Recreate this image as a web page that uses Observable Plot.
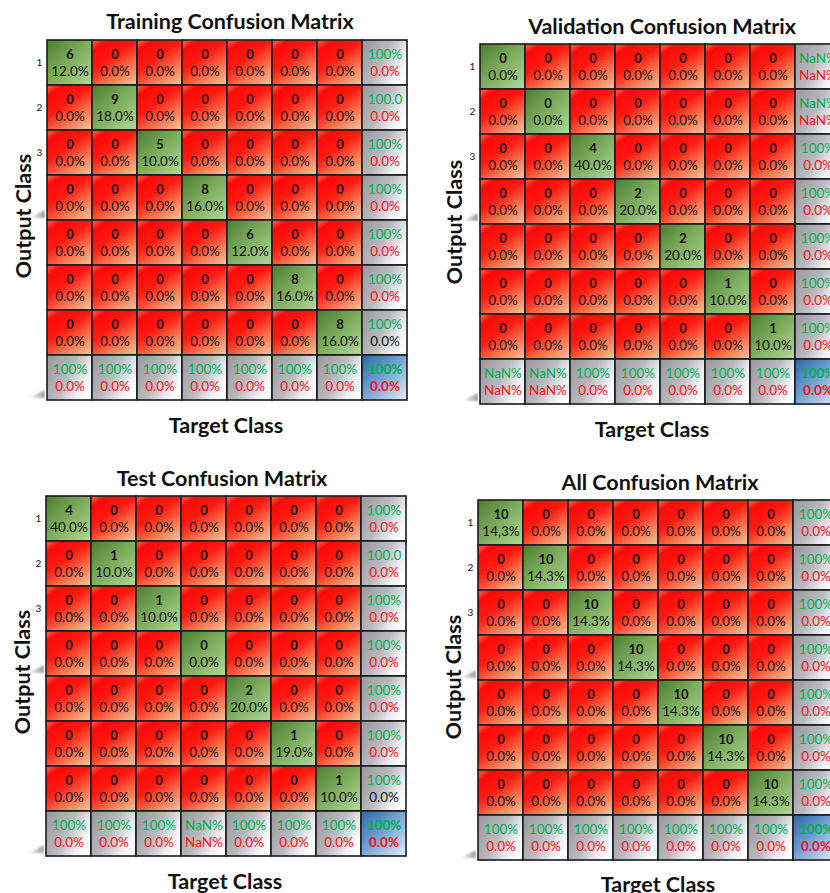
<!DOCTYPE html>
<html>
<head>
<meta charset="utf-8">
<script src="https://cdn.jsdelivr.net/npm/d3@7"></script>
<script src="https://cdn.jsdelivr.net/npm/@observablehq/plot@0.6"></script>
<style>
  html, body { margin: 0; padding: 0; background: #fff; }
  #page { position: relative; width: 830px; height: 893px; overflow: hidden;
          font-family: Lato, "Open Sans", sans-serif; color: #111; }
  .lbl { position: absolute; font-weight: bold; font-size: 21.5px; white-space: nowrap;
         transform: translate(-50%, -50%); line-height: 1; }
  .ylab { transform: translate(-50%, -50%) rotate(-90deg); }
  .panel { position: absolute; }
  .shade { position: absolute; }
</style>
</head>
<body>
<!-- shaded fills used by the matrix cells -->
<svg width="0" height="0" style="position:absolute">
  <defs>
    <linearGradient id="gRed" x1="0.15" y1="0" x2="0.85" y2="1">
      <stop offset="0" stop-color="#ff4a38"/>
      <stop offset="0.1" stop-color="#ff0808"/>
      <stop offset="0.4" stop-color="#ff1a10"/>
      <stop offset="0.72" stop-color="#f7744e"/>
      <stop offset="1" stop-color="#f2b890"/>
    </linearGradient>
    <linearGradient id="gGreen" x1="0" y1="0" x2="1" y2="1">
      <stop offset="0" stop-color="#4c7c2f"/>
      <stop offset="0.5" stop-color="#7eae5e"/>
      <stop offset="1" stop-color="#b4d99b"/>
    </linearGradient>
    <linearGradient id="gGray" x1="0" y1="0.25" x2="1" y2="0.75">
      <stop offset="0" stop-color="#9d9da3"/>
      <stop offset="0.45" stop-color="#b9bac0"/>
      <stop offset="0.78" stop-color="#eceef3"/>
      <stop offset="1" stop-color="#ffffff"/>
    </linearGradient>
    <linearGradient id="gBlue" x1="0" y1="0" x2="1" y2="1">
      <stop offset="0" stop-color="#2c66a6"/>
      <stop offset="0.45" stop-color="#6f9fd2"/>
      <stop offset="1" stop-color="#e6eef8"/>
    </linearGradient>
    <linearGradient id="gShade" x1="0" y1="0" x2="1" y2="0">
      <stop offset="0" stop-color="#9a9a9a" stop-opacity="0"/>
      <stop offset="1" stop-color="#8a8a8a" stop-opacity="0.9"/>
    </linearGradient>
    <filter id="soft"><feGaussianBlur stdDeviation="0.8"/></filter>
  </defs>
</svg>
<div id="page"></div>
<script>
// ---- class labels ----
const classes = ["1", "2", "3", "4", "5", "6", "7"];
const rowTicks = ["1", "2", "3"];
const offDiagCount = 0;
const offDiagPct = "0.0%";

// ---- Training ----
const trainDiag = [6, 9, 5, 8, 6, 8, 8];
const trainDiagPct = ["12.0%", "18.0%", "10.0%", "16.0%", "12.0%", "16.0%", "16.0%"];
const trainRowOk = ["100%", "100.0", "100%", "100%", "100%", "100%", "100%"];
const trainRowErr = ["0.0%", "0.0%", "0.0%", "0.0%", "0.0%", "0.0%", "0.0%"];
const trainColOk = ["100%", "100%", "100%", "100%", "100%", "100%", "100%"];
const trainColErr = ["0.0%", "0.0%", "0.0%", "0.0%", "0.0%", "0.0%", "0.0%"];
const trainTotal = ["100%", "0.0%"];

// ---- Validation ----
const valDiag = [0, 0, 4, 2, 2, 1, 1];
const valDiagPct = ["0.0%", "0.0%", "40.0%", "20.0%", "20.0%", "10.0%", "10.0%"];
const valRowOk = ["NaN%", "NaN%", "100%", "100%", "100%", "100%", "100%"];
const valRowErr = ["NaN%", "NaN%", "0.0%", "0.0%", "0.0%", "0.0%", "0.0%"];
const valColOk = ["NaN%", "NaN%", "100%", "100%", "100%", "100%", "100%"];
const valColErr = ["NaN%", "NaN%", "0.0%", "0.0%", "0.0%", "0.0%", "0.0%"];
const valTotal = ["100%", "0.0%"];

// ---- Test ----
const testDiag = [4, 1, 1, 0, 2, 1, 1];
const testDiagPct = ["40.0%", "10.0%", "10.0%", "0.0%", "20.0%", "19.0%", "10.0%"];
const testRowOk = ["100%", "100.0", "100%", "100%", "100%", "100%", "100%"];
const testRowErr = ["0.0%", "0.0%", "0.0%", "0.0%", "0.0%", "0.0%", "0.0%"];
const testColOk = ["100%", "100%", "100%", "NaN%", "100%", "100%", "100%"];
const testColErr = ["0.0%", "0.0%", "0.0%", "NaN%", "0.0%", "0.0%", "0.0%"];
const testTotal = ["100%", "0.0%"];

// ---- All ----
const allDiag = [10, 10, 10, 10, 10, 10, 10];
const allDiagPct = ["14,3%", "14.3%", "14.3%", "14.3%", "14.3%", "14.3%", "14.3%"];
const allRowOk = ["100%", "100%", "100%", "100%", "100%", "100%", "100%"];
const allRowErr = ["0.0%", "0.0%", "0.0%", "0.0%", "0.0%", "0.0%", "0.0%"];
const allColOk = ["100%", "100%", "100%", "100%", "100%", "100%", "100%"];
const allColErr = ["0.0%", "0.0%", "0.0%", "0.0%", "0.0%", "0.0%", "0.0%"];
const allTotal = ["100%", "0.0%"];

const GREEN = "#00b050", RED = "#ff1010", INK = "#111";
const keys = [...classes, "sum"];

const panels = [
  { title: "Training Confusion Matrix", diag: trainDiag, pct: trainDiagPct,
    rowOk: trainRowOk, rowErr: trainRowErr, colOk: trainColOk, colErr: trainColErr, total: trainTotal,
    darkErrRows: [6], left: 45, top: 39, w: 363, h: 361,
    titleX: 230, titleY: 22, xlabX: 226, xlabY: 426, ylabX: 24, ylabY: 216 },
  { title: "Validation Confusion Matrix", diag: valDiag, pct: valDiagPct,
    rowOk: valRowOk, rowErr: valRowErr, colOk: valColOk, colErr: valColErr, total: valTotal,
    darkErrRows: [], left: 477.7, top: 42, w: 363, h: 363,
    titleX: 662, titleY: 27, xlabX: 652, xlabY: 430, ylabX: 455, ylabY: 222 },
  { title: "Test Confusion Matrix", diag: testDiag, pct: testDiagPct,
    rowOk: testRowOk, rowErr: testRowErr, colOk: testColOk, colErr: testColErr, total: testTotal,
    darkErrRows: [6], left: 44, top: 494, w: 363, h: 363,
    titleX: 222, titleY: 479, xlabX: 225, xlabY: 882, ylabX: 23, ylabY: 672 },
  { title: "All Confusion Matrix", diag: allDiag, pct: allDiagPct,
    rowOk: allRowOk, rowErr: allRowErr, colOk: allColOk, colErr: allColErr, total: allTotal,
    darkErrRows: [], left: 475.7, top: 498.7, w: 363, h: 361.3,
    titleX: 660, titleY: 483, xlabX: 658, xlabY: 885, ylabX: 454, ylabY: 677 }
];

function buildCells(p) {
  const out = [];
  for (let r = 0; r < 8; r++) {
    for (let c = 0; c < 8; c++) {
      const d = { row: keys[r], col: keys[c] };
      if (r < 7 && c < 7) {
        d.kind = "inner";
        d.fill = r === c ? "url(#gGreen)" : "url(#gRed)";
        d.top = String(r === c ? p.diag[r] : offDiagCount);
        d.bottom = r === c ? p.pct[r] : offDiagPct;
        d.topFill = INK; d.bottomFill = INK;
      } else if (r === 7 && c === 7) {
        d.kind = "total";
        d.fill = "url(#gBlue)";
        d.top = p.total[0]; d.bottom = p.total[1];
        d.topFill = GREEN; d.bottomFill = RED;
      } else if (c === 7) {
        d.kind = "sum";
        d.fill = "url(#gGray)";
        d.top = p.rowOk[r]; d.bottom = p.rowErr[r];
        d.topFill = GREEN; d.bottomFill = p.darkErrRows.includes(r) ? INK : RED;
      } else {
        d.kind = "sum";
        d.fill = "url(#gGray)";
        d.top = p.colOk[c]; d.bottom = p.colErr[c];
        d.topFill = GREEN; d.bottomFill = RED;
      }
      out.push(d);
    }
  }
  return out;
}

const page = document.getElementById("page");
const ML = 22, MR = 2, MT = 2, MB = 2;

// small drop-shadow wedges on the left side of each table
function addShade(x, yBottom) {
  const w = 16, h = 8;
  const s = d3.create("svg").attr("class", "shade").attr("width", w).attr("height", h + 2)
    .style("left", (x - w) + "px").style("top", (yBottom - h) + "px");
  s.append("polygon").attr("points", `0,${h} ${w},0 ${w},${h}`)
    .attr("fill", "url(#gShade)").attr("filter", "url(#soft)");
  page.appendChild(s.node());
}

for (const p of panels) {
  const cells = buildCells(p);
  const inner = cells.filter(d => d.kind === "inner");
  const sums = cells.filter(d => d.kind === "sum");
  const total = cells.filter(d => d.kind === "total");

  addShade(p.left, p.top + 179);
  addShade(p.left, p.top + 359);

  const chart = Plot.plot({
    width: p.w + ML + MR,
    height: p.h + MT + MB,
    marginLeft: ML, marginRight: MR, marginTop: MT, marginBottom: MB,
    x: { domain: keys, padding: 0, axis: null },
    y: { domain: keys, padding: 0, axis: null },
    color: { type: "identity" },
    style: { fontFamily: "Lato, 'Open Sans', sans-serif", background: "transparent", overflow: "visible" },
    marks: [
      Plot.cell(cells, { x: "col", y: "row", fill: "fill", stroke: "#1b1b1b", strokeWidth: 1.6 }),
      // counts and shares inside the matrix
      Plot.text(inner, { x: "col", y: "row", text: "top", fill: "topFill", fontWeight: "bold", fontSize: 13, dy: -8 }),
      Plot.text(inner, { x: "col", y: "row", text: "bottom", fill: "bottomFill", fontSize: 13.5, dy: 8.5 }),
      // per-class accuracy / error
      Plot.text(sums, { x: "col", y: "row", text: "top", fill: "topFill", fontSize: 13.5, dy: -8.5 }),
      Plot.text(sums, { x: "col", y: "row", text: "bottom", fill: "bottomFill", fontSize: 13.5, dy: 8.5 }),
      // overall accuracy / error
      Plot.text(total, { x: "col", y: "row", text: "top", fill: "topFill", fontWeight: "bold", fontSize: 13.5, dy: -8.5 }),
      Plot.text(total, { x: "col", y: "row", text: "bottom", fill: "bottomFill", fontWeight: "bold", fontSize: 13.5, dy: 8.5 }),
      // row tick labels
      Plot.text(rowTicks, { y: d => d, frameAnchor: "left", dx: -9, fontSize: 10, fill: INK })
    ]
  });
  chart.classList.add("panel");
  chart.style.left = (p.left - ML) + "px";
  chart.style.top = (p.top - MT) + "px";
  page.appendChild(chart);

  const t = document.createElement("div");
  t.className = "lbl"; t.textContent = p.title;
  t.style.left = p.titleX + "px"; t.style.top = p.titleY + "px";
  page.appendChild(t);

  const xl = document.createElement("div");
  xl.className = "lbl"; xl.textContent = "Target Class";
  xl.style.left = p.xlabX + "px"; xl.style.top = p.xlabY + "px";
  page.appendChild(xl);

  const yl = document.createElement("div");
  yl.className = "lbl ylab"; yl.textContent = "Output Class";
  yl.style.left = p.ylabX + "px"; yl.style.top = p.ylabY + "px";
  page.appendChild(yl);
}
</script>
</body>
</html>
